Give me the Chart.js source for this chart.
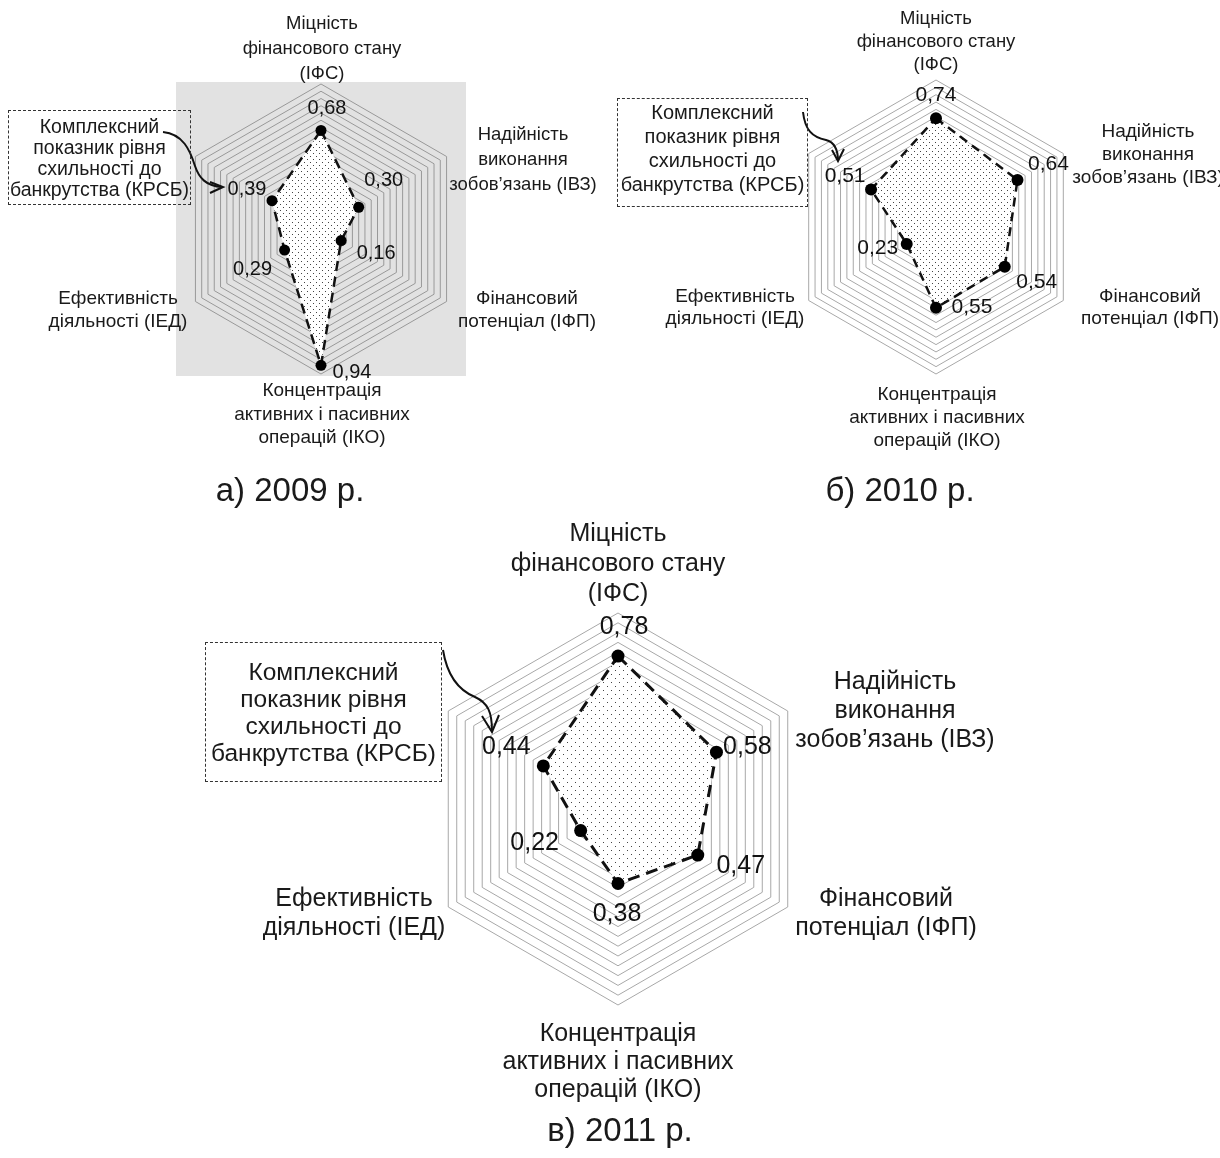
<!DOCTYPE html>
<html>
<head>
<meta charset="utf-8">
<script src="https://cdn.jsdelivr.net/npm/chart.js@4/dist/chart.umd.min.js"></script>
<style>
  body { margin: 0; width: 1220px; height: 1158px; overflow: hidden; background: #fff; position: relative;
         font-family: "Liberation Sans", Arial, sans-serif; color: #1a1a1a; }
  canvas { position: absolute; }
  .lbl { position: absolute; transform: translate(-50%, -50%); text-align: center; white-space: nowrap; }
  .box { position: absolute; border: 1px dashed #333; box-sizing: border-box; display: flex;
         align-items: center; justify-content: center; text-align: center; white-space: nowrap; }
  #arrows { position: absolute; left: 0; top: 0; }
</style>
</head>
<body>
<!-- each canvas is 20px bigger on every side than its plot area -->
<canvas id="c2009" width="330" height="334" style="left:156px;top:62px"></canvas>
<canvas id="c2010" width="334" height="334" style="left:769px;top:60px"></canvas>
<canvas id="c2011" width="432" height="432" style="left:402px;top:593px"></canvas>

<svg id="arrows" width="1220" height="1158" fill="none" stroke="#111" stroke-width="2">
  <path d="M163,132 C183,134 190,150 195,166 C199,178 206,186 222,187" />
  <path d="M210,182 L223,187 L210,193" />
  <path d="M803,112 C805,130 812,137 826,140 C834,142 838,150 838,161" />
  <path d="M832,150 L838,161 L844,149" />
  <path d="M443,650 C447,675 458,690 475,697 C488,703 492,712 492,731" />
  <path d="M482,716 L492,732 L499,715" />
</svg>

<script>
// axes, clockwise from top
const categories = [
  ['Міцність', 'фінансового стану', '(ІФС)'],
  ['Надійність', 'виконання', 'зобов’язань (ІВЗ)'],
  ['Фінансовий', 'потенціал (ІФП)'],
  ['Концентрація', 'активних і пасивних', 'операцій (ІКО)'],
  ['Ефективність', 'діяльності (ІЕД)'],
  ['Комплексний', 'показник рівня', 'схильності до', 'банкрутства (КРСБ)']
];

const values2009 = [0.68, 0.30, 0.16, 0.94, 0.29, 0.39];
const values2010 = [0.74, 0.64, 0.54, 0.55, 0.23, 0.51];
const values2011 = [0.78, 0.58, 0.47, 0.38, 0.22, 0.44];

const captions = ['а) 2009 р.', 'б) 2010 р.', 'в) 2011 р.'];

function dots(size) {
  const c = document.createElement('canvas');
  c.width = size; c.height = size;
  const g = c.getContext('2d');
  g.fillStyle = '#fff';
  g.fillRect(0, 0, size, size);
  g.fillStyle = '#444';
  g.fillRect(1, 1, 1, 1);
  g.fillRect(1 + size / 2, 1 + size / 2, 1, 1);
  return g.createPattern(c, 'repeat');
}

// grey plot background (only 2009 has one)
const plotBg = {
  id: 'plotBg',
  beforeDraw(chart, args, opts) {
    if (!opts.color) return;
    const a = chart.chartArea;
    chart.ctx.save();
    chart.ctx.fillStyle = opts.color;
    chart.ctx.fillRect(a.left, a.top, a.right - a.left, a.bottom - a.top);
    chart.ctx.restore();
  }
};

// value labels next to points, drawn from the point elements
const valueLabels = {
  id: 'valueLabels',
  afterDatasetsDraw(chart, args, opts) {
    const ctx = chart.ctx;
    const meta = chart.getDatasetMeta(0);
    const data = chart.data.datasets[0].data;
    ctx.save();
    ctx.font = opts.size + 'px "Liberation Sans", Arial, sans-serif';
    ctx.fillStyle = '#111';
    ctx.textAlign = 'center';
    ctx.textBaseline = 'middle';
    meta.data.forEach((pt, i) => {
      const txt = data[i].toFixed(2).replace('.', ',');
      ctx.fillText(txt, pt.x + opts.offsets[i][0], pt.y + opts.offsets[i][1]);
    });
    ctx.restore();
  }
};

function makeRadar(id, values, s) {
  new Chart(document.getElementById(id), {
    type: 'radar',
    data: {
      labels: categories.map(c => c.join(' ')),
      datasets: [{
        data: values,
        fill: true,
        backgroundColor: dots(s.tile),
        borderColor: '#111',
        borderWidth: s.line,
        borderDash: s.dash,
        pointRadius: s.point,
        pointBackgroundColor: '#000',
        pointBorderColor: '#000',
        pointBorderWidth: 0
      }]
    },
    options: {
      responsive: false,
      animation: false,
      layout: { padding: 20 },
      plugins: {
        legend: { display: false },
        tooltip: { enabled: false },
        plotBg: { color: s.bg },
        valueLabels: { size: s.font, offsets: s.offsets }
      },
      scales: {
        r: {
          min: 0, max: 1,
          ticks: { stepSize: 0.05, display: false },
          grid: { color: s.grid, lineWidth: 1 },
          angleLines: { display: false },
          pointLabels: { display: false }
        }
      }
    },
    plugins: [plotBg, valueLabels]
  });
}

makeRadar('c2009', values2009, { line: 2.5, dash: [10, 6], point: 5.5, font: 20, grid: '#999', bg: '#e2e2e2', tile: 6,
  offsets: [[6, -22], [25, -27], [35, 13], [31, 7], [-32, 19], [-25, -11]] });
makeRadar('c2010', values2010, { line: 2.5, dash: [9, 6], point: 6, font: 21, grid: '#a8a8a8', bg: null, tile: 6,
  offsets: [[0, -23], [31, -16], [32, 16], [36, -1], [-29, 4], [-26, -13]] });
makeRadar('c2011', values2011, { line: 3, dash: [12, 7], point: 6.5, font: 25, grid: '#a8a8a8', bg: null, tile: 8,
  offsets: [[6, -29], [31, -5], [43, 11], [-1, 31], [-46, 13], [-37, -19]] });

// axis titles around each chart
function label(lines, x, y, size, lh) {
  const d = document.createElement('div');
  d.className = 'lbl';
  d.style.left = x + 'px';
  d.style.top = y + 'px';
  d.style.fontSize = size + 'px';
  d.style.lineHeight = lh + 'px';
  d.innerHTML = lines.join('<br>');
  document.body.appendChild(d);
}
function box(lines, x, y, w, h, size, lh, shift) {
  const d = document.createElement('div');
  d.className = 'box';
  Object.assign(d.style, { left: x + 'px', top: y + 'px', width: w + 'px', height: h + 'px',
    fontSize: size + 'px', lineHeight: lh + 'px', paddingBottom: (shift || 0) + 'px' });
  d.innerHTML = '<div>' + lines.join('<br>') + '</div>';
  document.body.appendChild(d);
}

// 2009
label(categories[0], 322, 47, 18.5, 25);
label(categories[1], 523, 158, 18.5, 25);
label(categories[2], 527, 309, 19, 23);
label(categories[3], 322, 413, 19, 23.5);
label(categories[4], 118, 309, 19, 23);
box(categories[5], 8, 110, 183, 95, 19.5, 21);

// 2010
label(categories[0], 936, 40, 18.5, 23);
label(categories[1], 1148, 153, 19, 23);
label(categories[2], 1150, 307, 19, 22);
label(categories[3], 937, 416, 19, 23);
label(categories[4], 735, 307, 19, 22);
box(categories[5], 617, 98, 191, 109, 20, 24, 9);

// 2011
label(categories[0], 618, 562, 25, 30);
label(categories[1], 895, 709, 25, 29);
label(categories[2], 886, 912, 25, 29);
label(categories[3], 618, 1060, 25, 28);
label(categories[4], 354, 912, 25, 29);
box(categories[5], 205, 642, 237, 140, 24.5, 27);

label([captions[0]], 290, 490, 33, 38);
label([captions[1]], 900, 490, 33, 38);
label([captions[2]], 620, 1130, 33, 38);
</script>
</body>
</html>
